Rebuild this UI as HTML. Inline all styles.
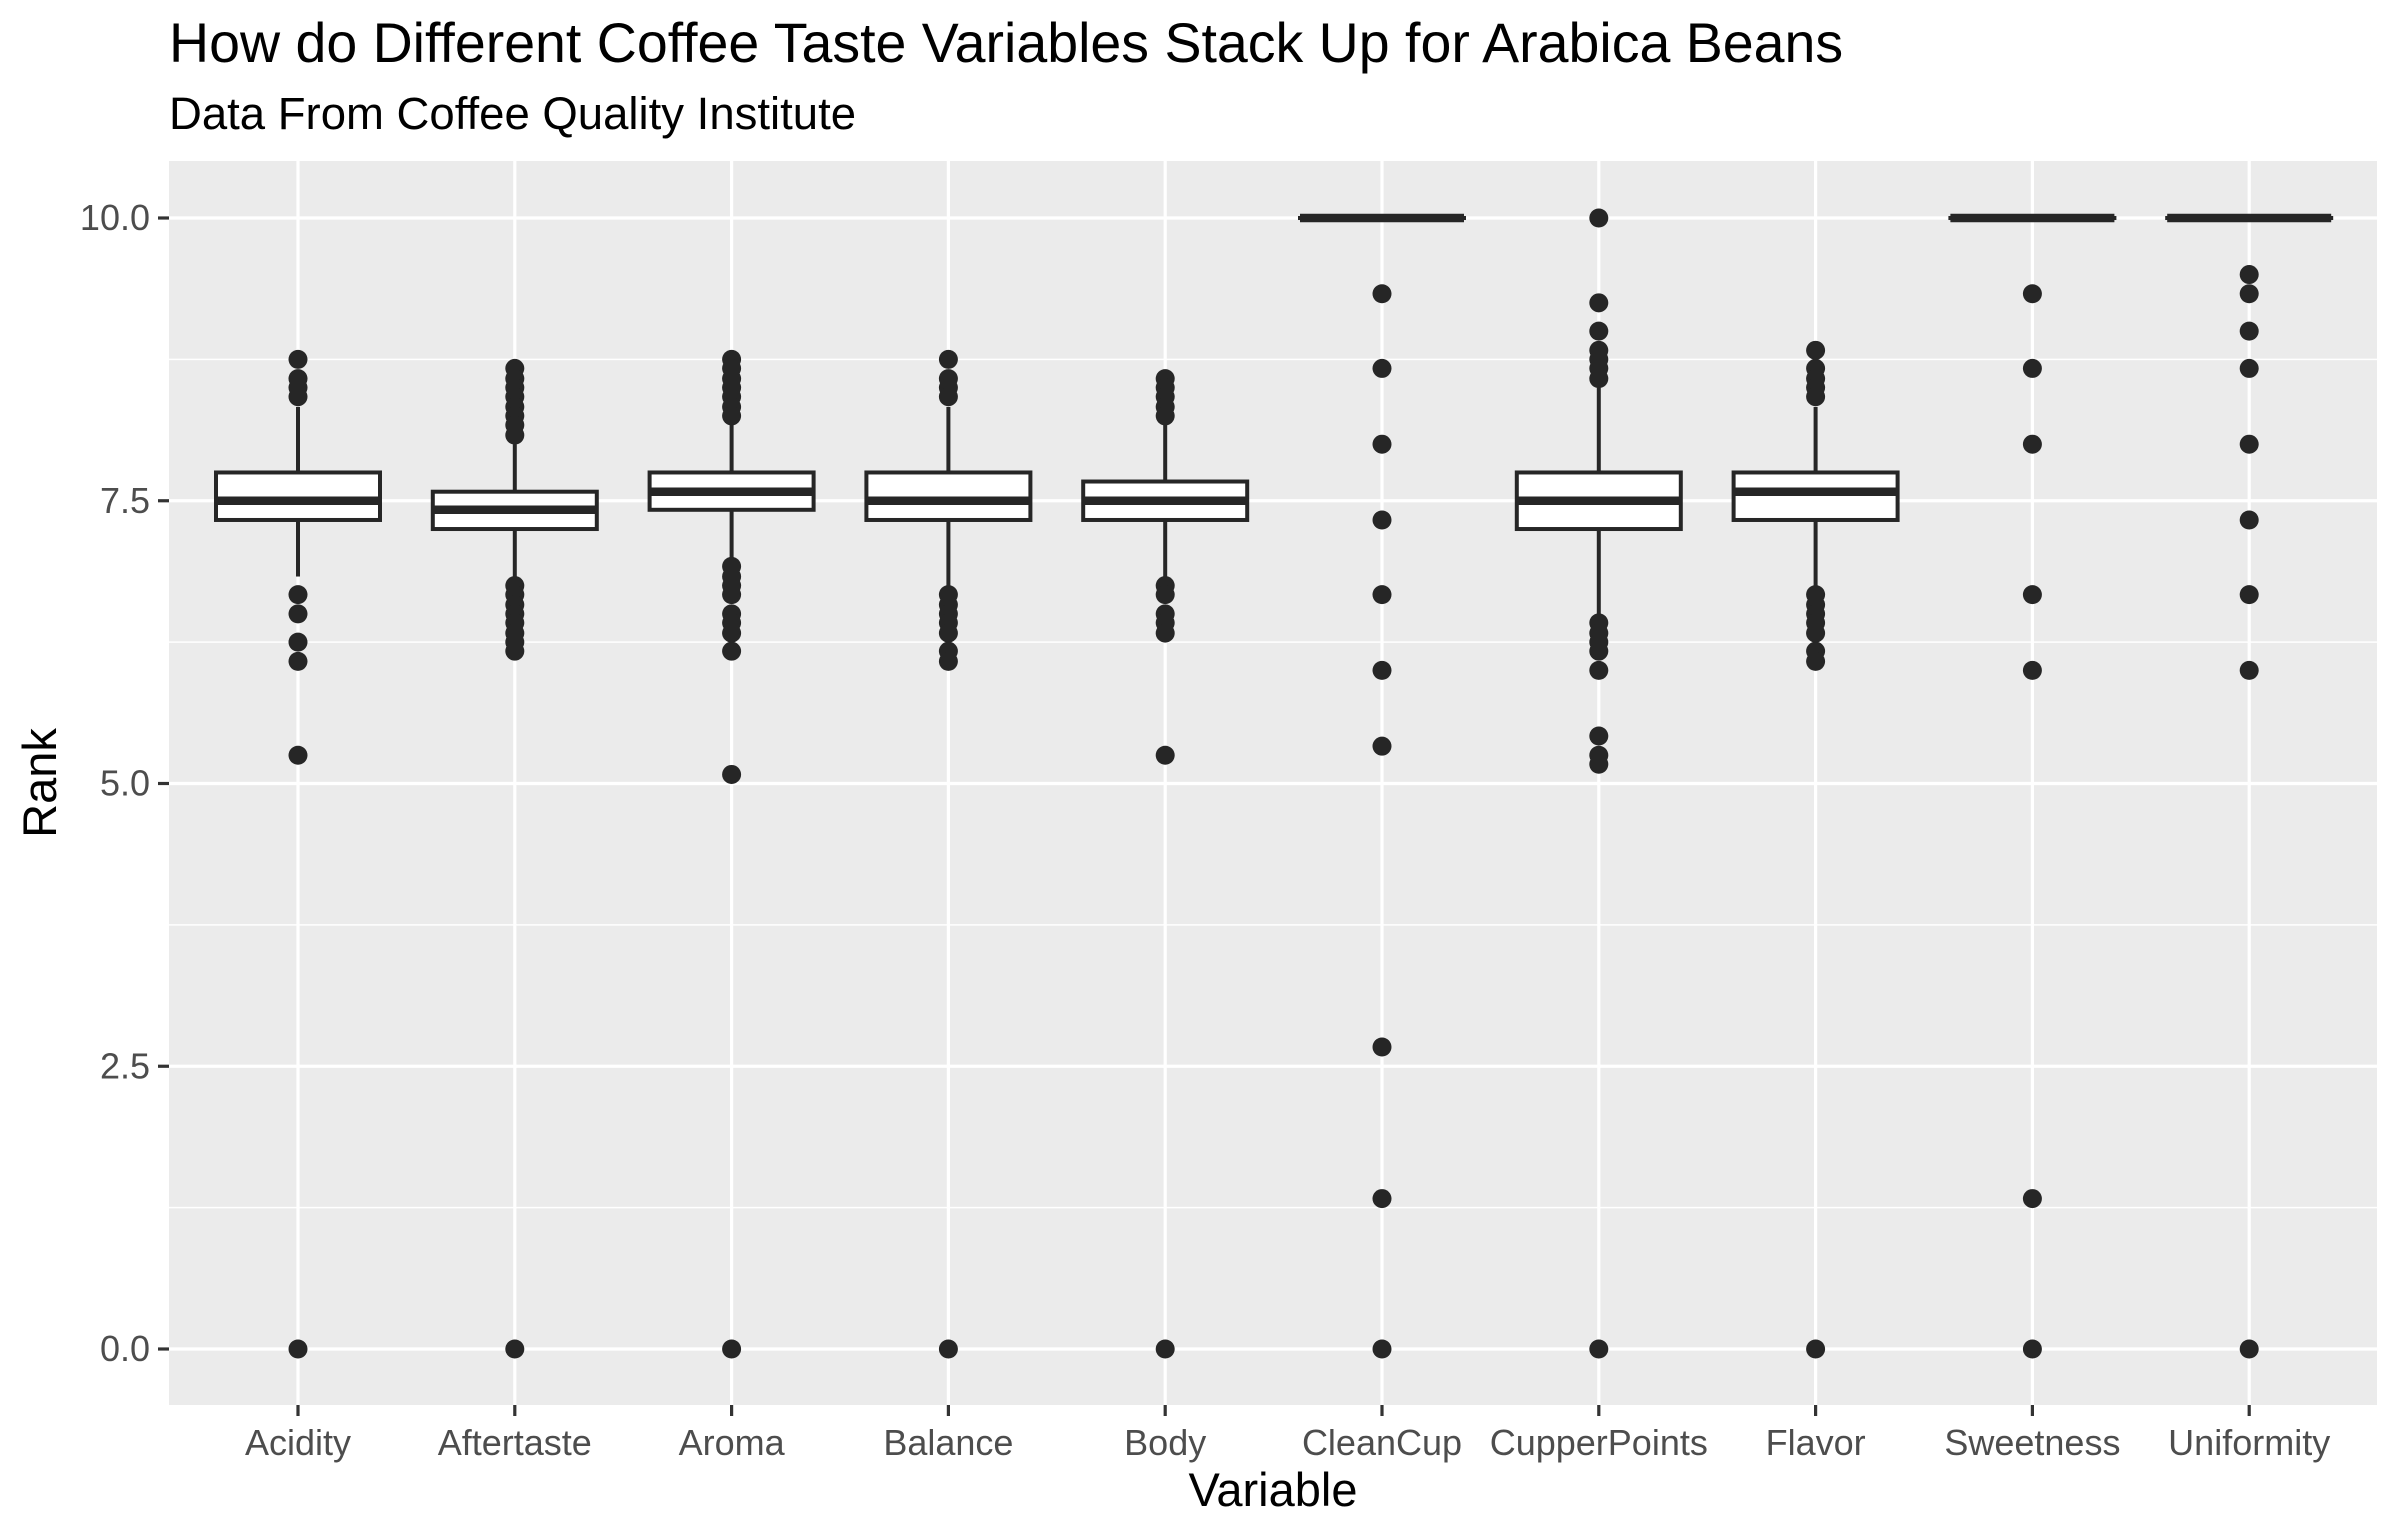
<!DOCTYPE html>
<html><head><meta charset="utf-8"><style>
html,body{margin:0;padding:0;background:#fff}
svg{display:block}
text{font-family:"Liberation Sans",Arial,sans-serif}
</style></head><body>
<svg id="chart" width="2400" height="1537" viewBox="0 0 2400 1537" xmlns="http://www.w3.org/2000/svg">
<rect width="2400" height="1537" fill="#fff"/>
<text x="169" y="62" font-size="55.5" fill="#000">How do Different Coffee Taste Variables Stack Up for Arabica Beans</text>
<text x="169" y="129" font-size="45.5" fill="#000">Data From Coffee Quality Institute</text>
<rect x="169" y="161" width="2208" height="1244" fill="#EBEBEB"/>
<g id="grid"></g>
<g id="marks"></g>
<g id="axes"></g>
<text x="1273" y="1506" font-size="47" text-anchor="middle" fill="#000">Variable</text>
<text x="0" y="0" font-size="47" text-anchor="middle" fill="#000" transform="translate(56,783) rotate(-90)">Rank</text>
</svg>
<script>
const categories = ["Acidity","Aftertaste","Aroma","Balance","Body","CleanCup","CupperPoints","Flavor","Sweetness","Uniformity"];
const q1Values = [7.33,7.25,7.42,7.33,7.33,10,7.25,7.33,10,10];
const medianValues = [7.5,7.42,7.58,7.5,7.5,10,7.5,7.58,10,10];
const q3Values = [7.75,7.58,7.75,7.75,7.67,10,7.75,7.75,10,10];
const whiskerLow = [6.83,6.83,7.0,6.75,6.83,10,6.5,6.75,10,10];
const whiskerHigh = [8.33,8.0,8.17,8.33,8.17,10,8.5,8.33,10,10];
const outlierValues = [
 [8.75,8.58,8.5,8.42,6.67,6.5,6.25,6.08,5.25,0],
 [8.67,8.58,8.5,8.42,8.33,8.25,8.17,8.08,6.75,6.67,6.58,6.5,6.42,6.33,6.25,6.17,0],
 [8.75,8.67,8.58,8.5,8.42,8.33,8.25,6.92,6.83,6.75,6.67,6.5,6.42,6.33,6.17,5.08,0],
 [8.75,8.58,8.5,8.42,6.67,6.58,6.5,6.42,6.33,6.17,6.08,0],
 [8.58,8.5,8.42,8.33,8.25,6.75,6.67,6.5,6.42,6.33,5.25,0],
 [9.33,8.67,8,7.33,6.67,6,5.33,2.67,1.33,0],
 [10,9.25,9,8.83,8.75,8.67,8.58,6.42,6.33,6.25,6.17,6.0,5.42,5.25,5.17,0],
 [8.83,8.67,8.58,8.5,8.42,6.67,6.58,6.5,6.42,6.33,6.17,6.08,0],
 [9.33,8.67,8,6.67,6,1.33,0],
 [9.5,9.33,9,8.67,8,7.33,6.67,6,0]
];
const yTickValues = [0,2.5,5,7.5,10];
const yTickLabels = ["0.0","2.5","5.0","7.5","10.0"];
const yMinorValues = [1.25,3.75,6.25,8.75];

const NS = "http://www.w3.org/2000/svg";
const PL=169, PR=2377, PT=161, PB=1405;
function yScale(v){ return 1349 - v*113.1; }
function xScale(i){ return 298 + i*216.8; }
function mk(tag, attrs, parent){
  const e=document.createElementNS(NS,tag);
  for(const k in attrs) e.setAttribute(k, attrs[k]);
  parent.appendChild(e); return e;
}
const grid=document.getElementById('grid'), marks=document.getElementById('marks'), axes=document.getElementById('axes');
yMinorValues.forEach(v=>{
  const l=mk('line',{x1:PL,x2:PR,y1:yScale(v),y2:yScale(v),stroke:'#fff','stroke-width':1.6},grid);
  
  
});
yTickValues.forEach((v,i)=>{
  const l=mk('line',{x1:PL,x2:PR,y1:yScale(v),y2:yScale(v),stroke:'#fff','stroke-width':3.2},grid);
  
  
  const t=mk('line',{x1:158,x2:169,y1:yScale(v),y2:yScale(v),stroke:'#333','stroke-width':3.2},axes);
  
  
  const tx=mk('text',{x:150,y:yScale(v)+12,'font-size':36,'text-anchor':'end',fill:'#4D4D4D'},axes);
  tx.textContent=yTickLabels[i];
  
  
});
categories.forEach((c,i)=>{
  const x=xScale(i);
  const g=mk('line',{x1:x,x2:x,y1:PT,y2:PB,stroke:'#fff','stroke-width':3.2},grid);
  
  
  const t=mk('line',{x1:x,x2:x,y1:PB,y2:PB+11,stroke:'#333','stroke-width':3.2},axes);
  
  
  const tx=mk('text',{x:x,y:1455,'font-size':36,'text-anchor':'middle',fill:'#4D4D4D'},axes);
  tx.textContent=c;
  
  

  const grp=mk('g',{},marks);
  
  
  const hw=82;
  mk('line',{x1:x,x2:x,y1:yScale(whiskerHigh[i]),y2:yScale(q3Values[i]),stroke:'#262626','stroke-width':4},grp);
  mk('line',{x1:x,x2:x,y1:yScale(q1Values[i]),y2:yScale(whiskerLow[i]),stroke:'#262626','stroke-width':4},grp);
  const top=yScale(q3Values[i]), bot=yScale(q1Values[i]);
  mk('rect',{x:x-hw,y:top,width:2*hw,height:Math.max(bot-top,0.01),fill:'#fff',stroke:'#262626','stroke-width':4},grp);
  mk('line',{x1:x-hw,x2:x+hw,y1:yScale(medianValues[i]),y2:yScale(medianValues[i]),stroke:'#262626','stroke-width':8.5},grp);
  outlierValues[i].forEach(v=>{
    const p=mk('circle',{cx:x,cy:yScale(v),r:9.5,fill:'#262626'},grp);
    
    
  });
});
</script>
</body></html>
